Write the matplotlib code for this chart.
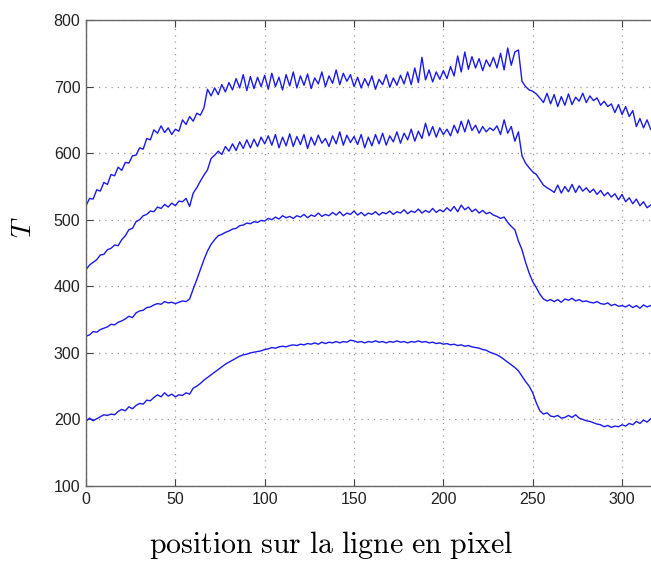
import numpy as np
import matplotlib
matplotlib.use("Agg")
import matplotlib.pyplot as plt

# position sur la ligne (un point tous les 2 pixels)
x = np.arange(0, 317, 2)

# profil du haut
t_a = [521, 532, 531, 545, 543, 556, 553, 568, 566, 579, 574, 586, 585, 596, 597, 608,
       606, 622, 620, 635, 630, 641, 631, 638, 628, 636, 633, 650, 643, 655, 648, 660,
       657, 668, 696, 686, 698, 688, 703, 692, 706, 695, 712, 698, 718, 694, 715, 697,
       714, 700, 717, 696, 720, 700, 714, 695, 718, 701, 722, 698, 716, 702, 719, 697,
       713, 704, 722, 700, 716, 705, 725, 703, 720, 708, 718, 700, 714, 698, 712, 701,
       716, 696, 711, 703, 718, 699, 713, 702, 717, 704, 722, 703, 728, 706, 744, 710,
       725, 707, 722, 711, 724, 712, 730, 716, 746, 722, 752, 726, 745, 728, 742, 724,
       740, 730, 744, 728, 750, 725, 758, 732, 752, 755, 708, 700, 695, 693, 689, 683,
       676, 690, 674, 688, 670, 685, 672, 689, 673, 684, 678, 690, 676, 686, 679, 683,
       672, 678, 670, 674, 661, 673, 658, 670, 655, 664, 640, 652, 638, 650, 636]

# deuxieme profil
t_b = [425, 432, 436, 440, 447, 448, 455, 457, 462, 461, 470, 476, 485, 487, 497, 500,
       506, 508, 513, 512, 519, 517, 523, 519, 525, 521, 528, 527, 532, 520, 540, 548,
       558, 567, 575, 592, 597, 603, 598, 610, 603, 614, 604, 617, 607, 620, 608, 621,
       610, 624, 614, 626, 612, 628, 608, 624, 611, 629, 610, 625, 613, 628, 607, 624,
       612, 627, 615, 622, 610, 626, 614, 632, 612, 627, 616, 625, 613, 628, 608, 624,
       611, 628, 614, 630, 612, 626, 617, 632, 615, 630, 620, 636, 618, 633, 622, 645,
       626, 640, 624, 638, 628, 636, 626, 642, 630, 648, 632, 650, 634, 642, 630, 640,
       632, 638, 634, 641, 628, 650, 630, 640, 618, 632, 596, 585, 578, 572, 568, 560,
       552, 548, 545, 541, 552, 540, 550, 542, 553, 541, 551, 543, 548, 541, 546, 538,
       544, 536, 541, 534, 539, 530, 538, 527, 533, 524, 531, 521, 527, 518, 522]

# troisieme profil
t_c = [325, 327, 332, 331, 335, 337, 339, 343, 342, 346, 348, 351, 355, 353, 360, 363,
       364, 368, 369, 372, 374, 373, 377, 375, 376, 374, 376, 378, 377, 381, 396, 410,
       425, 440, 453, 463, 470, 476, 478, 481, 483, 486, 487, 491, 492, 495, 494, 497,
       496, 499, 498, 502, 500, 504, 501, 506, 503, 505, 502, 506, 504, 508, 503, 507,
       505, 510, 505, 508, 506, 511, 507, 512, 506, 510, 508, 513, 507, 511, 506, 510,
       508, 512, 507, 511, 509, 513, 508, 512, 510, 515, 509, 513, 511, 516, 510, 514,
       511, 517, 511, 515, 512, 518, 513, 520, 512, 522, 515, 519, 512, 516, 510, 514,
       509, 511, 507, 505, 502, 504, 496, 490, 485, 468, 455, 436, 420, 407, 398, 388,
       381, 378, 380, 377, 380, 376, 381, 379, 382, 378, 380, 377, 378, 376, 375, 377,
       374, 373, 375, 371, 373, 370, 371, 369, 372, 368, 371, 367, 372, 369, 371]

# profil du bas
t_d = [197, 202, 198, 201, 204, 207, 206, 208, 207, 212, 215, 213, 219, 216, 221, 224,
       223, 229, 228, 233, 237, 234, 240, 235, 238, 234, 237, 236, 240, 238, 247, 250,
       254, 259, 263, 267, 271, 275, 279, 283, 286, 289, 292, 295, 297, 298, 300, 301,
       302, 303, 305, 306, 308, 307, 309, 310, 309, 311, 312, 311, 313, 312, 314, 313,
       315, 313, 316, 314, 316, 315, 317, 315, 317, 316, 319, 318, 316, 317, 315, 317,
       316, 318, 316, 317, 315, 317, 316, 318, 316, 317, 315, 317, 316, 318, 316, 317,
       315, 316, 314, 315, 313, 314, 312, 313, 311, 312, 310, 311, 309, 308, 307, 305,
       304, 301, 299, 297, 294, 290, 286, 282, 278, 273, 265, 257, 250, 240, 225, 213,
       208, 210, 205, 204, 206, 202, 203, 206, 203, 207, 202, 200, 198, 197, 195, 193,
       192, 189, 191, 188, 190, 189, 192, 190, 194, 192, 197, 194, 199, 196, 201]

xticks = [0, 50, 100, 150, 200, 250, 300]
yticks = [100, 200, 300, 400, 500, 600, 700, 800]

plt.rcParams['mathtext.fontset'] = 'cm'

fig = plt.figure(figsize=(6.51, 5.61), dpi=100)
ax = fig.add_axes([0.1321, 0.1337, 0.8679, 0.8306])

for t in (t_a, t_b, t_c, t_d):
    ax.plot(x, t, color='#1a1aee', linewidth=1.0)

ax.set_xlim(0, 316.2)
ax.set_ylim(100, 800)
ax.set_xticks(xticks)
ax.set_yticks(yticks)
ax.grid(True, linestyle=(0, (1, 4)), color='#999999', linewidth=0.9)

for s in ('left', 'top', 'bottom'):
    ax.spines[s].set_color('#666666')
    ax.spines[s].set_linewidth(1.0)
ax.spines['right'].set_visible(False)
ax.tick_params(direction='in', top=True, right=False, length=5, color='#444444',
               labelsize=11.5, labelcolor='#222222', pad=4)
for lab in ax.get_xticklabels() + ax.get_yticklabels():
    lab.set_family('Liberation Sans')

fig.text(331 / 651, 8 / 561, r'$\mathrm{position\ sur\ la\ ligne\ en\ pixel}$',
         fontsize=21.5, ha='center', va='baseline')
fig.text(23 / 651, 1 - 227 / 561, r'$T$', fontsize=20, rotation=90,
         ha='center', va='center')

fig.savefig('out.png', dpi=100)
